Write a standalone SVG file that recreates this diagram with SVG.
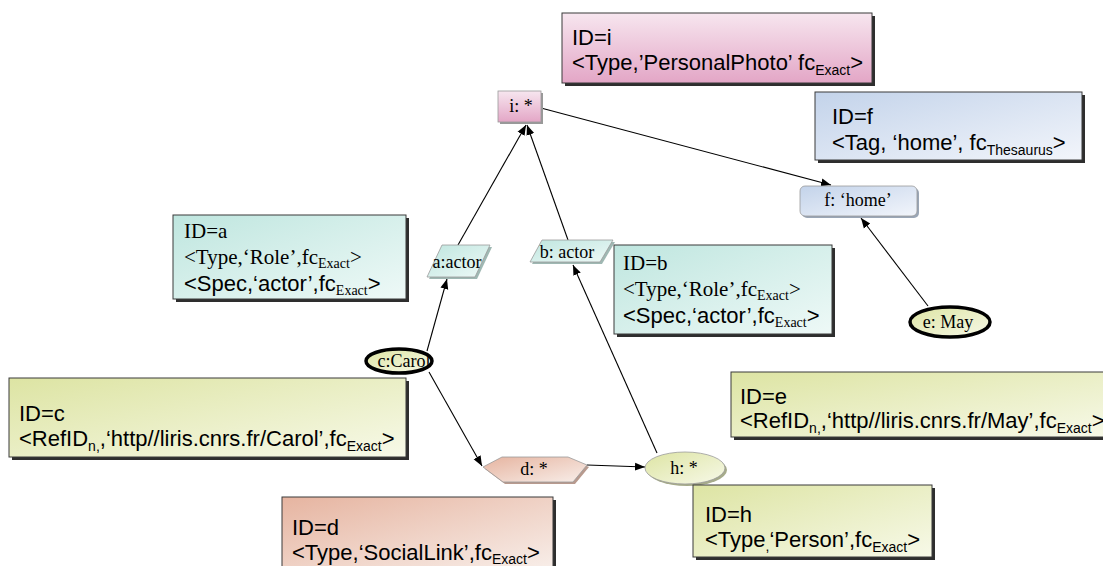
<svg xmlns="http://www.w3.org/2000/svg" width="1103" height="566" viewBox="0 0 1103 566">
  <defs>
    <linearGradient id="gPink" x1="0" y1="0" x2="0" y2="1">
      <stop offset="0" stop-color="#f7e6ef"/>
      <stop offset="1" stop-color="#e3a6c6"/>
    </linearGradient>
    <linearGradient id="gTeal" x1="0" y1="0" x2="1" y2="1">
      <stop offset="0" stop-color="#bfe6df"/>
      <stop offset="1" stop-color="#eef9f7"/>
    </linearGradient>
    <linearGradient id="gBlue" x1="0" y1="0" x2="1" y2="1">
      <stop offset="0" stop-color="#c3d3ea"/>
      <stop offset="1" stop-color="#f2f5fb"/>
    </linearGradient>
    <linearGradient id="gOlive" x1="0" y1="0" x2="1" y2="1">
      <stop offset="0" stop-color="#dde4a3"/>
      <stop offset="1" stop-color="#f7f9e8"/>
    </linearGradient>
    <linearGradient id="gSalmon" x1="0" y1="0" x2="1" y2="1">
      <stop offset="0" stop-color="#e6b4a0"/>
      <stop offset="1" stop-color="#f8eee9"/>
    </linearGradient>
    <marker id="arr" viewBox="0 0 10 10" refX="10" refY="5" markerWidth="10" markerHeight="10" markerUnits="userSpaceOnUse" orient="auto">
      <path d="M0,1 L10,5 L0,9 z" fill="#000"/>
    </marker>
  </defs>
  <style>
    .box { stroke: #3a3a3a; stroke-width: 1; }
    .shadow { fill: #2e2e2e; }
    .sans { font-family: "Liberation Sans", Arial, sans-serif; font-size: 22px; fill: #000; }
    .serif { font-family: "Liberation Serif", "Times New Roman", serif; font-size: 21px; fill: #000; }
    .lbl { font-family: "Liberation Serif", "Times New Roman", serif; font-size: 18px; fill: #000; text-anchor: middle; }
    .node { stroke: #9a9a9a; stroke-width: 0.8; }
    .thick { stroke: #000; stroke-width: 3.5; }
    .edge { stroke: #000; stroke-width: 1.1; fill: none; marker-end: url(#arr); }
    .sub { font-size: 14px; }
  </style>

  <rect width="1103" height="566" fill="#ffffff"/>

  <!-- connectors -->
  <g id="connectors">
    <line class="edge" x1="427" y1="351" x2="447" y2="279"/>
    <line class="edge" x1="458" y1="245" x2="526" y2="125"/>
    <line class="edge" x1="568" y1="240" x2="527" y2="125"/>
    <line class="edge" x1="657" y1="453" x2="573" y2="265"/>
    <line class="edge" x1="429" y1="372" x2="482" y2="466"/>
    <line class="edge" x1="587" y1="465" x2="645" y2="467"/>
    <line class="edge" x1="541" y1="108" x2="831" y2="185"/>
    <line class="edge" x1="928" y1="306" x2="861" y2="218"/>
  </g>

  <!-- annotation box i -->
  <g id="box-i">
    <rect class="shadow" x="565" y="16" width="310" height="70"/>
    <rect class="box" x="562" y="13" width="310" height="70" fill="url(#gPink)"/>
    <text class="sans" x="572" y="45">ID=i</text>
    <text class="sans" x="572" y="70">&lt;Type,’PersonalPhoto’ fc<tspan class="sub" dy="5">Exact</tspan><tspan dy="-5">&gt;</tspan></text>
  </g>

  <!-- annotation box f -->
  <g id="box-f">
    <rect class="shadow" x="818" y="95" width="267" height="68"/>
    <rect class="box" x="815" y="92" width="267" height="68" fill="url(#gBlue)"/>
    <text class="sans" x="832" y="124">ID=f</text>
    <text class="sans" x="832" y="150">&lt;Tag, ‘home’, fc<tspan class="sub" dy="5">Thesaurus</tspan><tspan dy="-5">&gt;</tspan></text>
  </g>

  <!-- node i -->
  <g id="node-i">
    <rect x="500" y="93" width="43" height="31" fill="#999"/>
    <rect class="node" x="498" y="91" width="43" height="31" fill="url(#gPink)"/>
    <text class="lbl" x="521" y="112">i: *</text>
  </g>

  <!-- node f -->
  <g id="node-f">
    <rect x="802" y="188" width="117" height="30" rx="5" fill="#9aa6b6"/>
    <rect class="node" x="800" y="186" width="117" height="30" rx="5" fill="url(#gBlue)"/>
    <text class="lbl" x="858" y="206">f: ‘home’</text>
  </g>

  <!-- annotation box a -->
  <g id="box-a">
    <rect class="shadow" x="176" y="218" width="233" height="84"/>
    <rect class="box" x="173" y="215" width="233" height="84" fill="url(#gTeal)"/>
    <text class="serif" x="184" y="238">ID=a</text>
    <text class="serif" x="184" y="264">&lt;Type,‘Role’,fc<tspan class="sub" dy="4">Exact</tspan><tspan dy="-4">&gt;</tspan></text>
    <text class="sans" x="184" y="291">&lt;Spec,‘actor’,fc<tspan class="sub serif" dy="4">Exact</tspan><tspan dy="-4">&gt;</tspan></text>
  </g>

  <!-- node a:actor -->
  <g id="node-a">
    <polygon points="444,247 492,247 477,279 429,279" fill="#9fb8b3"/>
    <polygon class="node" points="442,245 490,245 475,277 427,277" fill="url(#gTeal)"/>
    <text class="lbl" x="457" y="268">a:actor</text>
  </g>

  <!-- node b: actor -->
  <g id="node-b">
    <polygon points="544,242 615,242 602,264 532,264" fill="#9fb8b3"/>
    <polygon class="node" points="542,240 613,240 600,262 530,262" fill="url(#gTeal)"/>
    <text class="lbl" x="567" y="258">b: actor</text>
  </g>

  <!-- annotation box b -->
  <g id="box-b">
    <rect class="shadow" x="617" y="248" width="218" height="89"/>
    <rect class="box" x="614" y="245" width="218" height="89" fill="url(#gTeal)"/>
    <text class="serif" x="623" y="270">ID=b</text>
    <text class="serif" x="623" y="296">&lt;Type,‘Role’,fc<tspan class="sub" dy="4">Exact</tspan><tspan dy="-4">&gt;</tspan></text>
    <text class="sans" x="623" y="323">&lt;Spec,‘actor’,fc<tspan class="sub serif" dy="4">Exact</tspan><tspan dy="-4">&gt;</tspan></text>
  </g>

  <!-- node e: May -->
  <g id="node-e">
    <ellipse class="thick" cx="950" cy="322" rx="40" ry="15" fill="url(#gOlive)"/>
    <text class="lbl" x="948" y="328">e: May</text>
  </g>

  <!-- node c:Carol -->
  <g id="node-c">
    <ellipse class="thick" cx="399" cy="361" rx="33" ry="12" fill="url(#gOlive)"/>
    <text class="lbl" x="404" y="367">c:Carol</text>
  </g>

  <!-- annotation box c -->
  <g id="box-c">
    <rect class="shadow" x="12" y="381" width="397" height="79"/>
    <rect class="box" x="9" y="378" width="397" height="79" fill="url(#gOlive)"/>
    <text class="sans" x="19" y="421">ID=c</text>
    <text class="sans" x="19" y="446">&lt;RefID<tspan class="sub" dy="5">n,</tspan><tspan dy="-5">,‘http//liris.cnrs.fr/Carol’,fc</tspan><tspan class="sub" dy="5">Exact</tspan><tspan dy="-5">&gt;</tspan></text>
  </g>

  <!-- annotation box e -->
  <g id="box-e">
    <rect class="shadow" x="734" y="375" width="372" height="65"/>
    <rect class="box" x="731" y="372" width="375" height="65" fill="url(#gOlive)"/>
    <text class="sans" x="740" y="404">ID=e</text>
    <text class="sans" x="740" y="428">&lt;RefID<tspan class="sub" dy="5">n,</tspan><tspan dy="-5">,‘http//liris.cnrs.fr/May’,fc</tspan><tspan class="sub" dy="5">Exact</tspan><tspan dy="-5">&gt;</tspan></text>
  </g>

  <!-- node d -->
  <g id="node-d">
    <polygon points="485,469 504,459 570,459 589,467 575,484 505,484" fill="#b89a8e"/>
    <polygon class="node" points="483,467 502,457 568,457 587,465 573,482 503,482" fill="url(#gSalmon)"/>
    <text class="lbl" x="534" y="475">d: *</text>
  </g>

  <!-- node h -->
  <g id="node-h">
    <ellipse cx="687" cy="470" rx="40" ry="16" fill="#a6ab8a"/>
    <ellipse class="node" cx="685" cy="468" rx="40" ry="16" fill="url(#gOlive)"/>
    <text class="lbl" x="684" y="474">h: *</text>
  </g>

  <!-- annotation box d -->
  <g id="box-d">
    <rect class="shadow" x="285" y="500" width="271" height="72"/>
    <rect class="box" x="282" y="497" width="271" height="72" fill="url(#gSalmon)"/>
    <text class="sans" x="292" y="535">ID=d</text>
    <text class="sans" x="292" y="560">&lt;Type,‘SocialLink’,fc<tspan class="sub" dy="4">Exact</tspan><tspan dy="-4">&gt;</tspan></text>
  </g>

  <!-- annotation box h -->
  <g id="box-h">
    <rect class="shadow" x="696" y="488" width="239" height="72"/>
    <rect class="box" x="693" y="485" width="239" height="72" fill="url(#gOlive)"/>
    <text class="sans" x="705" y="522">ID=h</text>
    <text class="sans" x="705" y="547">&lt;Type<tspan class="sub" dy="4">,</tspan><tspan dy="-4">‘Person’,fc</tspan><tspan class="sub" dy="5">Exact</tspan><tspan dy="-5">&gt;</tspan></text>
  </g>
</svg>
